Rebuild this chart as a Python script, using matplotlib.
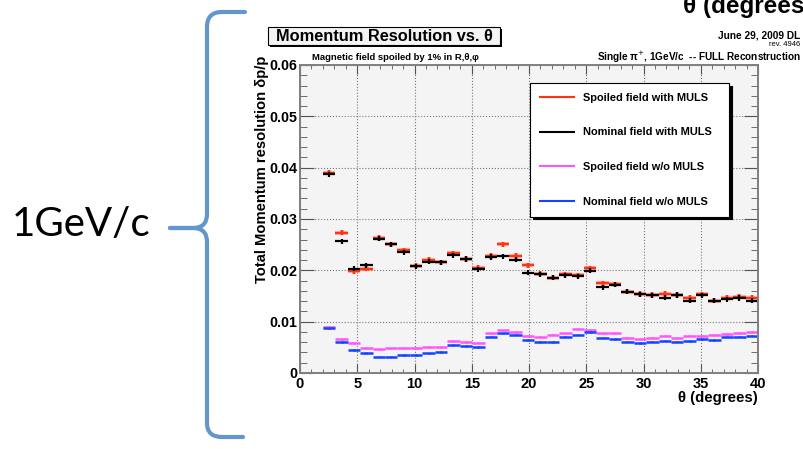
import numpy as np
import matplotlib.pyplot as plt
from matplotlib.path import Path
from matplotlib.patches import PathPatch, Rectangle
from matplotlib.lines import Line2D
from matplotlib.ticker import MultipleLocator, FuncFormatter

plt.rcParams['font.family'] = ['Liberation Sans', 'DejaVu Sans']

# theta bin edges (degrees), 35 bins
theta_edges = [2.00, 3.086, 4.171, 5.257, 6.343, 7.429, 8.514, 9.600, 10.686,
               11.771, 12.857, 13.943, 15.029, 16.114, 17.200, 18.286, 19.371,
               20.457, 21.543, 22.629, 23.714, 24.800, 25.886, 26.971, 28.057,
               29.143, 30.229, 31.314, 32.400, 33.486, 34.571, 35.657, 36.743,
               37.829, 38.914, 40.000]

spoiled_muls = [0.0390, 0.0273, 0.0198, 0.0203, 0.0263, 0.0251, 0.0239, 0.0209,
                0.0221, 0.0216, 0.0233, 0.0222, 0.0205, 0.0228, 0.0251, 0.0228,
                0.0210, 0.0193, 0.0186, 0.0192, 0.0190, 0.0204, 0.0175, 0.0173,
                0.0158, 0.0154, 0.0152, 0.0154, 0.0152, 0.0147, 0.0153, 0.0141,
                0.0147, 0.0149, 0.0147]
nominal_muls = [0.0387, 0.0257, 0.0203, 0.0210, 0.0262, 0.0251, 0.0235, 0.0208,
                0.0217, 0.0216, 0.0229, 0.0222, 0.0202, 0.0226, 0.0227, 0.0221,
                0.0195, 0.0192, 0.0186, 0.0190, 0.0188, 0.0199, 0.0167, 0.0172,
                0.0158, 0.0153, 0.0151, 0.0147, 0.0152, 0.0141, 0.0151, 0.0141,
                0.0144, 0.0146, 0.0141]
spoiled_nomuls = [0.0090, 0.0066, 0.0058, 0.0049, 0.0046, 0.0048, 0.0048, 0.0048,
                  0.0051, 0.0051, 0.0062, 0.0060, 0.0059, 0.0077, 0.0083, 0.0080,
                  0.0073, 0.0071, 0.0075, 0.0077, 0.0086, 0.0084, 0.0077, 0.0077,
                  0.0068, 0.0067, 0.0069, 0.0073, 0.0069, 0.0073, 0.0073, 0.0074,
                  0.0076, 0.0078, 0.0080]
nominal_nomuls = [0.0087, 0.0060, 0.0045, 0.0039, 0.0032, 0.0032, 0.0035, 0.0035,
                  0.0038, 0.0041, 0.0055, 0.0053, 0.0051, 0.0071, 0.0077, 0.0075,
                  0.0064, 0.0060, 0.0060, 0.0071, 0.0075, 0.0080, 0.0069, 0.0066,
                  0.0061, 0.0058, 0.0061, 0.0063, 0.0061, 0.0062, 0.0066, 0.0064,
                  0.0071, 0.0071, 0.0073]

series_labels = ['Spoiled field with MULS', 'Nominal field with MULS',
                 'Spoiled field w/o MULS', 'Nominal field w/o MULS']
series_colors = ['#ff3311', 'black', '#ff55ff', '#1144ff']

edges = np.array(theta_edges)
centers = (edges[:-1] + edges[1:]) / 2
half = (edges[1:] - edges[:-1]) / 2

W, H = 804, 449
fig = plt.figure(figsize=(W / 100, H / 100), dpi=100)

# slide decorations in pixel coordinates
deco = fig.add_axes([0, 0, 1, 1])
deco.set_xlim(0, W)
deco.set_ylim(H, 0)
deco.axis('off')

C = Path.CURVE3
L = Path.LINETO
upper = Path([(245, 12), (222, 12), (207, 12), (207, 27), (207, 214),
              (207, 228), (193, 228), (170, 228)],
             [Path.MOVETO, L, C, C, L, C, C, L])
lower = Path([(170, 228), (193, 228), (207, 228), (207, 242), (207, 423),
              (207, 437), (222, 437), (243, 437)],
             [Path.MOVETO, L, C, C, L, C, C, L])
for p in (upper, lower):
    deco.add_patch(PathPatch(p, fill=False, ec='#6397cb', lw=3, capstyle='round'))
deco.text(12, 236, '1GeV/c', fontsize=29, family='Lato', va='baseline', ha='left')

# heading of the slide, cut by the slide edge as in the original
deco.text(683, 13, 'θ (degrees)', fontsize=17.5, weight='bold', va='baseline', ha='left')

# ROOT title box
deco.add_patch(Rectangle((270, 29), 232, 18, fc='black', ec='none'))
deco.add_patch(Rectangle((268, 27), 232, 18, fc='#f4f4f4', ec='black', lw=0.8))
deco.text(384, 36.5, 'Momentum Resolution vs. θ', fontsize=11.8, weight='bold',
          ha='center', va='center')
deco.text(800, 35, 'June 29, 2009 DL', fontsize=7.3, weight='bold', ha='right', va='center')
deco.text(800, 44.5, 'rev. 4946', fontsize=5.5, ha='right', va='center')
deco.text(312, 57, 'Magnetic field spoiled by 1% in R,θ,φ', fontsize=6.8,
          weight='bold', ha='left', va='center')
deco.text(801, 57, 'Single π$^{+}$, 1GeV/c  -- FULL Reconstruction', fontsize=7.2,
          weight='bold', ha='right', va='center')

ax = fig.add_axes([300 / W, 1 - 373 / H, 458 / W, 308 / H])
ax.set_facecolor('#f4f4f4')

# MULS series: crosses
ax.errorbar(centers, spoiled_muls, xerr=half, yerr=0.0005, fmt='none',
            ecolor=series_colors[0], elinewidth=3, alpha=0.3, capsize=0)
ax.errorbar(centers, spoiled_muls, xerr=half, yerr=0.0005, fmt='none',
            ecolor=series_colors[0], elinewidth=1.6, capsize=0)
ax.errorbar(centers, nominal_muls, xerr=half, yerr=0.0005, fmt='none',
            ecolor=series_colors[1], elinewidth=1.6, capsize=0)
# no-MULS series: flat bars
ax.errorbar(centers, spoiled_nomuls, xerr=half, yerr=0.00015, fmt='none',
            ecolor=series_colors[2], elinewidth=1.8, capsize=0)
ax.errorbar(centers, nominal_nomuls, xerr=half, yerr=0.00015, fmt='none',
            ecolor=series_colors[3], elinewidth=1.8, capsize=0)

ax.set_xlim(0, 40)
ax.set_ylim(0, 0.06)
ax.xaxis.set_major_locator(MultipleLocator(5))
ax.xaxis.set_minor_locator(MultipleLocator(1))
ax.yaxis.set_major_locator(MultipleLocator(0.01))
ax.yaxis.set_minor_locator(MultipleLocator(0.002))
ax.yaxis.set_major_formatter(FuncFormatter(lambda v, p: '0' if abs(v) < 1e-9 else f'{v:.2f}'))
ax.xaxis.set_major_formatter(FuncFormatter(lambda v, p: f'{v:.0f}'))
ax.tick_params(axis='both', which='both', direction='in', top=True, right=True,
               color='#555555')
ax.tick_params(axis='x', which='major', length=6.5, labelsize=10.5, pad=3)
ax.tick_params(axis='x', which='minor', length=3.2)
ax.tick_params(axis='y', which='major', length=10, labelsize=10.3, pad=2)
ax.tick_params(axis='y', which='minor', length=5)
for lab in ax.get_xticklabels() + ax.get_yticklabels():
    lab.set_fontweight('bold')
ax.grid(True, which='major', color='#777777', linestyle=':', lw=0.8)
for s in ax.spines.values():
    s.set_color('#7f7f7f')
    s.set_linewidth(1.4)

ax.text(1.0, -0.06, 'θ (degrees)', transform=ax.transAxes, ha='right', va='top',
        fontsize=10.8, weight='bold')
ax.text(-0.084, 1.03, 'Total Momentum resolution δp/p', transform=ax.transAxes,
        rotation=90, ha='center', va='top', fontsize=10.6, weight='bold')

handles = [Line2D([], [], color=c, lw=1.5) for c in series_colors]
leg = ax.legend(handles, series_labels, loc='upper left',
                bbox_to_anchor=(0.502, 0.5, 0.435, 0.442), mode='expand',
                borderaxespad=0, borderpad=0.9, labelspacing=2.25,
                handlelength=3.1, handletextpad=0.8, fancybox=False,
                framealpha=1, edgecolor='black',
                shadow={'color': 'black', 'alpha': 1},
                prop={'weight': 'bold', 'size': 7.9})
leg.get_frame().set_linewidth(0.8)

fig.savefig('out.png', dpi=100)
